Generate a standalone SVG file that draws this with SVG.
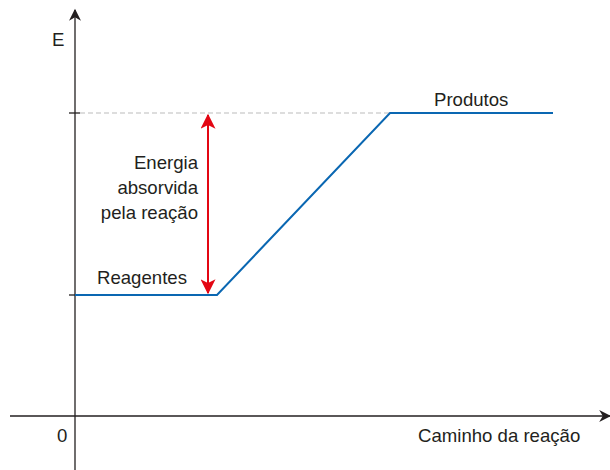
<svg xmlns="http://www.w3.org/2000/svg" width="610" height="470" viewBox="0 0 610 470">
<style>
text{font-family:"Liberation Sans",Arial,sans-serif;font-size:18.6px;fill:#231f20}
.ax{stroke:#231f20;stroke-width:1.3;fill:none}
</style>
<defs>
<marker id="ah" viewBox="0 0 10 10" refX="9" refY="5" markerWidth="15" markerHeight="12" markerUnits="userSpaceOnUse" orient="auto">
<path d="M0,0 L10,5 L0,10 L3,5 Z" fill="#231f20"/>
</marker>
<marker id="ra" viewBox="0 0 12 12" refX="11" refY="6" markerWidth="20" markerHeight="15" markerUnits="userSpaceOnUse" orient="auto-start-reverse">
<path d="M0,0 L12,6 L0,12 L3,6 Z" fill="#e30613"/>
</marker>
</defs>
<rect width="610" height="470" fill="#fff"/>
<g id="axes">
<line class="ax" x1="75" y1="470" x2="75" y2="10" marker-end="url(#ah)"/>
<line class="ax" x1="10" y1="416" x2="610" y2="416" marker-end="url(#ah)"/>
<line class="ax" x1="69" y1="113" x2="80" y2="113"/>
<line class="ax" x1="69" y1="295" x2="80" y2="295"/>
<line x1="80" y1="113" x2="390" y2="113" stroke="#bbb" stroke-width="1" stroke-dasharray="5,3"/>
<text x="52" y="46">E</text>
<text x="57" y="442">0</text>
<text x="418" y="442">Caminho da reação</text>
</g>
<g id="curve">
<polyline points="75,295 217,295 390,113 553,113" fill="none" stroke="#0a67b2" stroke-width="2"/>
</g>
<g id="reagentes"><text x="97" y="284">Reagentes</text></g>
<g id="produtos"><text x="434" y="106">Produtos</text></g>
<g id="connectors">
<line x1="208" y1="115" x2="208" y2="293" stroke="#e30613" stroke-width="2" marker-start="url(#ra)" marker-end="url(#ra)"/>
</g>
<g id="label">
<text x="198" y="169" text-anchor="end">Energia</text>
<text x="198" y="194" text-anchor="end">absorvida</text>
<text x="198" y="219" text-anchor="end">pela reação</text>
</g>
</svg>
